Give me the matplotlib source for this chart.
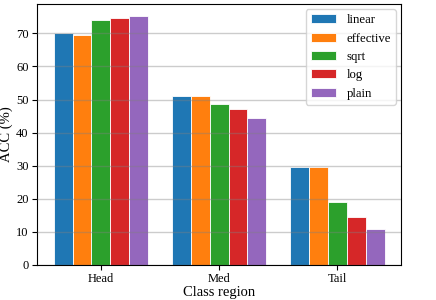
import numpy as np
import matplotlib
matplotlib.use('Agg')
import matplotlib.pyplot as plt

plt.rcParams['font.family'] = ['Liberation Serif', 'DejaVu Serif']

regions = ['Head', 'Med', 'Tail']
methods = ['linear', 'effective', 'sqrt', 'log', 'plain']
linear = [70.0, 51.2, 29.7]
effective = [69.6, 51.0, 29.5]
sqrt_ = [74.0, 48.5, 19.0]
log_ = [74.7, 47.2, 14.4]
plain = [75.2, 44.5, 10.7]
values = [linear, effective, sqrt_, log_, plain]
colors = ['#1f77b4', '#ff7f0e', '#2ca02c', '#d62728', '#9467bd']

fig, ax = plt.subplots(figsize=(4.36, 3), dpi=100)
x = np.arange(len(regions))
w = 0.16
for i, (m, v) in enumerate(zip(methods, values)):
    ax.bar(x + (i - 2) * w, v, w, label=m, color=colors[i],
           edgecolor='white', linewidth=0.6)

ax.set_axisbelow(False)
ax.yaxis.grid(True, color='gray', alpha=0.4, linewidth=1)
ax.set_xticks(x)
ax.set_xticklabels(regions, fontsize=9)
ax.tick_params(axis='both', labelsize=9, length=3.5, pad=2.5)
ax.set_xlabel('Class region', fontsize=10.5, labelpad=1)
ax.set_ylabel('ACC (%)', fontsize=10.5, labelpad=2)
ax.legend(loc='upper right', fontsize=9.2, borderaxespad=0.4)
fig.subplots_adjust(left=0.085, right=0.92, top=0.987, bottom=0.118)
fig.savefig('out.png', dpi=100)
